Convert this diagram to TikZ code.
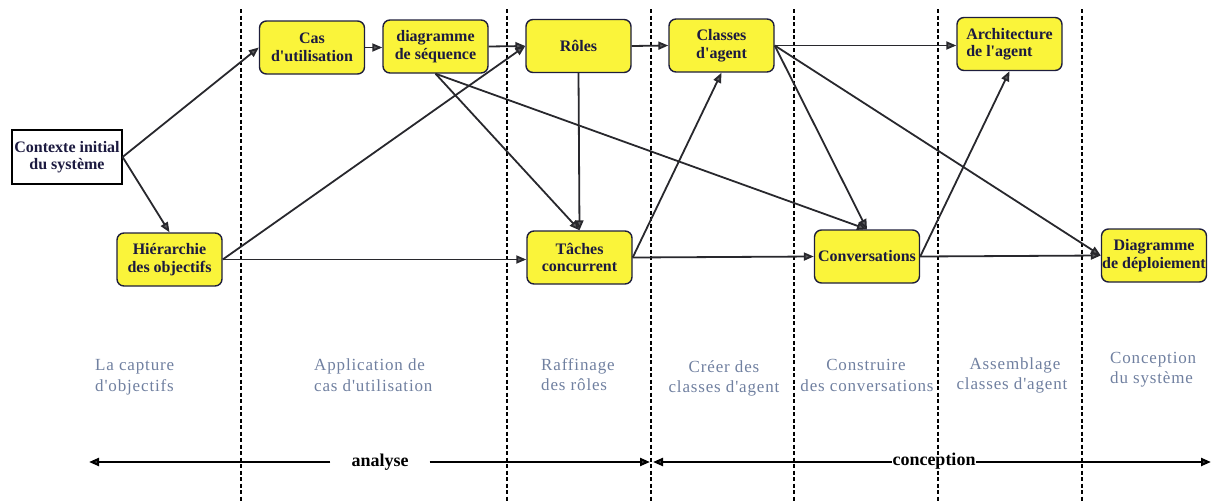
\documentclass[tikz,border=0pt]{standalone}
\usepackage{fontspec}
\setmainfont{Liberation Serif}[Ligatures=TeXOff]
\newfontfamily\phasefont{Liberation Serif}[LetterSpace=5,Ligatures=TeXOff]
\usetikzlibrary{arrows.meta}

\definecolor{boxfill}{RGB}{250,244,58}
\definecolor{boxline}{RGB}{30,30,60}
\definecolor{boxtext}{RGB}{28,26,64}
\definecolor{phasetext}{RGB}{112,128,160}
\definecolor{flowline}{RGB}{40,40,45}

\begin{document}
\begin{tikzpicture}[x=1pt,y=-1pt,
  activity/.style={draw=boxline, line width=1.4pt, fill=boxfill,
    rounded corners=7pt, minimum width=105pt, minimum height=53pt,
    inner sep=0pt, align=center, text=boxtext,
    font=\fontsize{16}{17.5}\selectfont\bfseries},
  startbox/.style={draw=black, line width=1.2pt, fill=white,
    minimum width=110pt, minimum height=54pt, inner sep=0pt,
    align=center, text=boxtext,
    font=\fontsize{16}{17.5}\selectfont\bfseries},
  flow/.style={draw=flowline, line width=1.8pt,
    -{Triangle[length=10pt,width=8pt,fill=flowline!75]}},
  phaseline/.style={draw=black, line width=1.6pt, dash pattern=on 4pt off 2.5pt},
  phaselabel/.style={text=phasetext, inner sep=0pt,
    font=\phasefont\fontsize{17}{20}\selectfont},
  stagename/.style={text=black, font=\fontsize{18}{20}\selectfont\bfseries},
  axis/.style={draw=black, line width=2.2pt},
  axistip/.style={-{Triangle[length=10pt,width=8pt,fill=flowline!70]}}
]
\useasboundingbox (0,0) rectangle (1213,501);

% phase separators
\foreach \x in {241,507,651,794,938,1082}
  \draw[phaseline] (\x,9) -- (\x,501);

% activities
\node[startbox] (ctx)     at (67,157)     {Contexte initial\\du système};
\node[activity] (hier)    at (169.5,259.5) {Hiérarchie\\des objectifs};
\node[activity] (cas)     at (312,47.5)   {Cas\\d'utilisation};
\node[activity] (diag)    at (435.5,46.5) {diagramme\\de séquence};
\node[activity] (roles)   at (578.5,46)   {Rôles};
\node[activity] (taches)  at (579.5,257.5) {Tâches\\concurrent};
\node[activity] (classes) at (721.5,45.5) {Classes\\d'agent};
\node[activity, align=left] (archi) at (1009.5,44) {Architecture\\de l'agent};
\node[activity] (conv)    at (867,256.5)  {Conversations};
\node[activity] (deploy)  at (1154,255.5) {Diagramme\\de déploiement};

% dependencies between activities
\draw[flow] (ctx.east) -- (cas.west);
\draw[flow] (ctx.east) -- (hier.north);
\draw[flow] (cas.east) -- (cas.east -| diag.west);
\draw[flow] (diag.east) -- (roles.west);
\draw[flow] (hier.east) -- (roles.west);
\draw[flow] (hier.east) -- (hier.east -| taches.west);
\draw[flow] (diag.south) -- (taches.north);
\draw[flow] (diag.south) -- (conv.north);
\draw[flow] (roles.south) -- (taches.north);
\draw[flow] (roles.east) -- (classes.west);
\draw[flow] (taches.east) -- (classes.south);
\draw[flow] (taches.east) -- (conv.west);
\draw[flow] (classes.east) -- (classes.east -| archi.west);
\draw[flow] (classes.east) -- (conv.north);
\draw[flow] (classes.east) -- (deploy.west);
\draw[flow] (conv.east) -- (archi.south);
\draw[flow] (conv.east) -- (deploy.west);

% phase names
\node[phaselabel, anchor=base west] (p1a) at (95,370)  {La capture};
\node[phaselabel, anchor=base west] (p1b) at (95,391)  {d'objectifs};
\node[phaselabel, anchor=base west] (p2a) at (314,370) {Application de};
\node[phaselabel, anchor=base west] (p2b) at (314,391) {cas d'utilisation};
\node[phaselabel, anchor=base west] (p3a) at (541,370) {Raffinage};
\node[phaselabel, anchor=base west] (p3b) at (541,390) {des rôles};
\node[phaselabel, anchor=base] (p4a) at (724,372)  {Créer des};
\node[phaselabel, anchor=base] (p4b) at (724,392)  {classes d'agent};
\node[phaselabel, anchor=base] (p5a) at (866,370)  {Construire};
\node[phaselabel, anchor=base] (p5b) at (867,391)  {des conversations};
\node[phaselabel, anchor=base] (p6a) at (1015,369) {Assemblage};
\node[phaselabel, anchor=base] (p6b) at (1012,389) {classes d'agent};
\node[phaselabel, anchor=base west] (p7a) at (1110,363) {Conception};
\node[phaselabel, anchor=base west] (p7b) at (1110,383) {du système};

% analysis / design span
\coordinate (axleft)  at (89,462);
\coordinate (axmidL)  at (650,462);
\coordinate (axmidR)  at (653,462);
\coordinate (axright) at (1211,462);
\node[stagename, inner xsep=21pt] (analyse) at (380,462) {analyse};
\node[stagename, inner xsep=0.5pt] (conception) at (934,461) {conception};
\draw[axis, axistip] (analyse.west |- axleft) -- (axleft);
\draw[axis, axistip] (analyse.east |- axmidL) -- (axmidL);
\draw[axis, axistip] (conception.west |- axmidR) -- (axmidR);
\draw[axis, axistip] (conception.east |- axright) -- (axright);
\end{tikzpicture}
\end{document}
